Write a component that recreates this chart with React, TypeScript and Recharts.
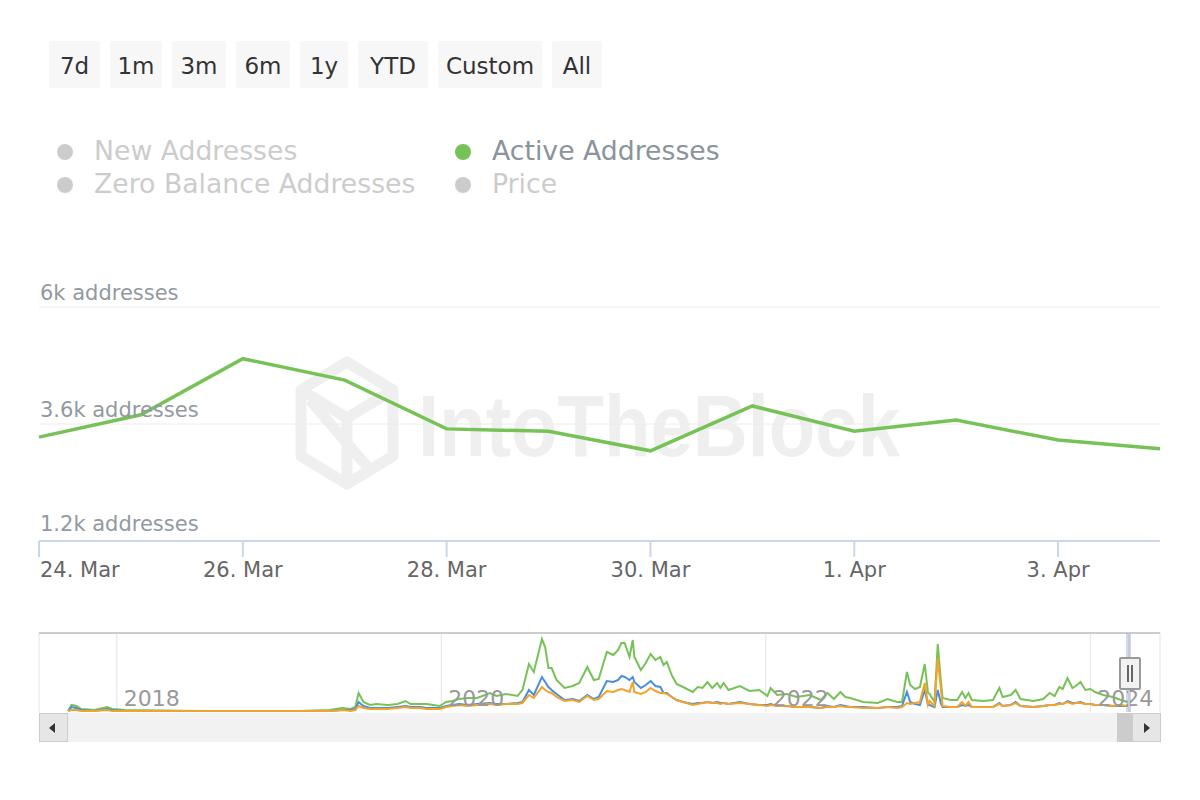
import React from 'react';
import { LineChart, Line, XAxis, YAxis, CartesianGrid } from 'recharts';

// ---- Main chart data (Active Addresses, last 12 days) ----
const mainDates = ['24. Mar', '25. Mar', '26. Mar', '27. Mar', '28. Mar', '29. Mar', '30. Mar', '31. Mar', '1. Apr', '2. Apr', '3. Apr', '4. Apr'];
const activeAddresses = [3330, 3790, 4940, 4500, 3500, 3450, 3050, 3970, 3450, 3680, 3270, 3090];
const yTickValues = [1200, 3600, 6000];
const yTickLabels = ['1.2k addresses', '3.6k addresses', '6k addresses'];

// ---- Navigator data (thousands of addresses, decimal years) ----
const navYears = [
  2017.70, 2017.72, 2017.75, 2017.78, 2017.86, 2017.94, 2017.97, 2018.05, 2018.51, 2019.13,
  2019.31, 2019.39, 2019.44, 2019.47, 2019.49, 2019.52, 2019.56, 2019.60, 2019.67, 2019.73,
  2019.78, 2019.81, 2019.87, 2019.91, 2019.99, 2020.03, 2020.07, 2020.11, 2020.16, 2020.22,
  2020.30, 2020.34, 2020.40, 2020.47, 2020.50, 2020.54, 2020.57, 2020.62, 2020.64, 2020.66,
  2020.68, 2020.71, 2020.76, 2020.81, 2020.85, 2020.90, 2020.94, 2020.97, 2021.02, 2021.06,
  2021.09, 2021.11, 2021.13, 2021.16, 2021.18, 2021.19, 2021.23, 2021.26, 2021.29, 2021.32,
  2021.35, 2021.37, 2021.39, 2021.42, 2021.45, 2021.49, 2021.55, 2021.58, 2021.61, 2021.64,
  2021.67, 2021.70, 2021.72, 2021.74, 2021.77, 2021.84, 2021.90, 2021.96, 2022.01, 2022.03,
  2022.07, 2022.13, 2022.19, 2022.27, 2022.34, 2022.38, 2022.42, 2022.46, 2022.49, 2022.52,
  2022.60, 2022.69, 2022.75, 2022.81, 2022.84, 2022.87, 2022.89, 2022.92, 2022.95, 2022.98,
  2023.00, 2023.01, 2023.04, 2023.06, 2023.08, 2023.09, 2023.14, 2023.18, 2023.21, 2023.23,
  2023.25, 2023.27, 2023.34, 2023.40, 2023.44, 2023.46, 2023.51, 2023.54, 2023.57, 2023.65,
  2023.71, 2023.75, 2023.78, 2023.81, 2023.83, 2023.86, 2023.89, 2023.91, 2023.94, 2023.97,
  2024.00, 2024.03, 2024.08, 2024.14, 2024.19, 2024.23,
];
const navActive = [
  0.3, 2.1, 1.8, 0.9, 0.6, 1.5, 0.9, 0.6, 0.3, 0.3,
  0.6, 1.2, 0.9, 1.5, 5.7, 3.0, 2.1, 2.4, 2.1, 2.4,
  3.3, 2.4, 2.4, 2.4, 1.8, 3.0, 3.3, 3.9, 4.2, 4.2,
  5.7, 4.8, 5.4, 4.8, 6.6, 14.4, 12.0, 21.9, 19.5, 13.2,
  13.2, 9.6, 7.2, 7.8, 8.7, 13.5, 9.6, 9.9, 18.0, 17.1,
  18.6, 20.7, 20.7, 16.5, 21.6, 16.5, 12.6, 14.7, 17.4, 15.6,
  16.5, 14.1, 15.0, 11.1, 8.4, 7.5, 6.0, 7.5, 7.2, 9.0,
  7.2, 8.7, 7.2, 8.7, 6.6, 7.8, 6.3, 6.6, 4.8, 7.2,
  5.1, 5.4, 4.5, 5.1, 3.6, 5.7, 3.9, 6.0, 4.5, 4.2,
  3.0, 2.7, 3.9, 3.0, 3.0, 12.0, 8.1, 6.9, 7.5, 14.4,
  5.7, 5.4, 3.0, 20.4, 9.0, 4.2, 3.6, 3.6, 6.0, 4.2,
  5.7, 3.6, 3.3, 3.6, 7.2, 4.5, 5.1, 6.6, 3.9, 3.3,
  3.9, 5.7, 4.8, 7.5, 6.9, 10.2, 7.2, 7.8, 9.0, 6.6,
  6.9, 6.0, 5.1, 4.5, 3.6, 3.0,
];
const navNew = [
  0.3, 1.5, 1.2, 0.6, 0.3, 0.9, 0.6, 0.3, 0.3, 0.3,
  0.3, 0.6, 0.6, 0.9, 3.0, 1.8, 1.2, 1.2, 1.2, 1.5,
  1.8, 1.5, 1.5, 1.2, 1.2, 1.8, 2.1, 2.4, 2.1, 2.4,
  2.7, 2.4, 2.4, 2.7, 3.0, 6.6, 5.1, 10.5, 9.0, 7.5,
  6.6, 5.4, 3.6, 3.9, 3.3, 5.1, 3.9, 4.5, 9.3, 9.0,
  9.6, 10.8, 10.5, 9.6, 10.5, 9.0, 7.2, 8.1, 9.3, 7.8,
  7.5, 5.7, 5.7, 4.5, 3.6, 3.0, 2.4, 2.7, 2.7, 3.0,
  2.7, 3.0, 2.7, 2.7, 2.4, 3.0, 2.4, 2.1, 2.1, 2.4,
  1.8, 1.8, 1.5, 1.5, 1.2, 1.8, 1.5, 2.1, 1.8, 1.5,
  1.5, 1.2, 1.5, 1.5, 1.8, 6.0, 3.0, 2.4, 2.1, 6.6,
  2.1, 2.1, 1.5, 6.6, 2.4, 1.5, 1.5, 1.5, 2.1, 1.8,
  2.1, 1.5, 1.5, 1.5, 2.7, 1.8, 2.1, 3.0, 1.8, 1.5,
  1.8, 2.1, 2.1, 2.7, 2.4, 3.3, 2.7, 2.7, 3.0, 2.4,
  2.4, 2.1, 2.1, 1.8, 1.8, 1.8,
];
const navZero = [
  0.3, 0.6, 0.6, 0.3, 0.3, 0.6, 0.3, 0.3, 0.3, 0.3,
  0.3, 0.6, 0.3, 0.6, 1.8, 1.2, 0.9, 0.9, 0.9, 1.2,
  1.5, 1.2, 1.2, 0.9, 0.9, 1.5, 1.8, 2.1, 1.8, 2.1,
  2.4, 2.1, 2.4, 2.4, 2.7, 5.1, 4.2, 7.5, 6.6, 6.0,
  5.7, 4.5, 3.3, 3.6, 3.0, 4.8, 3.6, 3.9, 6.3, 6.0,
  6.6, 6.9, 6.6, 6.0, 9.0, 6.0, 5.4, 6.0, 7.2, 6.3,
  5.7, 5.7, 5.4, 4.5, 3.6, 3.0, 2.1, 2.4, 2.7, 3.0,
  2.7, 2.7, 2.4, 2.7, 2.4, 2.7, 2.4, 2.1, 1.8, 2.1,
  1.8, 1.8, 1.5, 1.5, 1.2, 1.5, 1.5, 1.8, 1.5, 1.5,
  1.2, 1.2, 1.5, 1.2, 1.5, 2.7, 2.4, 2.7, 3.0, 8.7,
  2.1, 3.3, 1.8, 16.2, 6.6, 1.8, 1.5, 1.5, 3.0, 1.8,
  3.0, 1.5, 1.5, 1.5, 2.4, 1.8, 2.1, 2.7, 1.8, 1.5,
  1.8, 2.1, 2.1, 2.4, 2.4, 3.0, 2.4, 2.7, 2.7, 2.4,
  2.4, 2.1, 2.1, 1.8, 2.1, 1.8,
];
const navYearTicks = [2018, 2020, 2022, 2024];

const rangeButtons = ['7d', '1m', '3m', '6m', '1y', 'YTD', 'Custom', 'All'];
const legendItems = [
  { name: 'New Addresses', visible: false },
  { name: 'Zero Balance Addresses', visible: false },
  { name: 'Active Addresses', visible: true },
  { name: 'Price', visible: false },
];

const GREEN = '#77c257';
const BLUE = '#4a8fdc';
const ORANGE = '#f3a32c';
const FONT = '"DejaVu Sans", sans-serif';

const mainData = mainDates.map((d, i) => ({ date: d, active: activeAddresses[i] }));
const navData = navYears.map((y, i) => ({ t: y, active: navActive[i], newA: navNew[i], zero: navZero[i] }));

const buttonBoxes = [
  { left: 49, width: 51 },
  { left: 110, width: 52 },
  { left: 172, width: 54 },
  { left: 236, width: 54 },
  { left: 300, width: 48 },
  { left: 358, width: 70 },
  { left: 438, width: 104 },
  { left: 552, width: 50 },
];
const legendPos = [
  { x: 65, y: 152 },
  { x: 65, y: 185 },
  { x: 463, y: 152 },
  { x: 463, y: 185 },
];

const YTick = (props: any) => {
  const { y, payload } = props;
  const idx = yTickValues.indexOf(payload.value);
  return (
    <text x={40} y={y - (idx === 0 ? 10 : 7)} fill="#9299a0" fontSize={21} fontFamily={FONT} textAnchor="start">
      {yTickLabels[idx]}
    </text>
  );
};

const XTick = (props: any) => {
  const { x, y, payload, index } = props;
  return (
    <text x={index === 0 ? 40 : x} y={y + 18} fill="#666666" fontSize={21} fontFamily={FONT} textAnchor={index === 0 ? 'start' : 'middle'}>
      {payload.value}
    </text>
  );
};

const NavTick = (props: any) => {
  const { x, y, payload } = props;
  return (
    <text x={x + 7} y={y - 8} fill="#999999" fontSize={22} fontFamily={FONT} textAnchor="start">
      {payload.value}
    </text>
  );
};

export default function App() {
  return (
    <div style={{ position: 'absolute', left: 0, top: 0, width: 1200, height: 800, background: '#ffffff', fontFamily: FONT, overflow: 'hidden' }}>
      {rangeButtons.map((b, i) => (
        <div
          key={b}
          style={{
            position: 'absolute',
            left: buttonBoxes[i].left,
            top: 41,
            width: buttonBoxes[i].width,
            height: 47,
            background: '#f7f7f7',
            borderRadius: 2,
            color: '#333333',
            fontSize: 23,
            lineHeight: '50px',
            textAlign: 'center',
          }}
        >
          {b}
        </div>
      ))}

      {legendItems.map((it, i) => (
        <React.Fragment key={it.name}>
          <div
            style={{
              position: 'absolute',
              left: legendPos[i].x - 8,
              top: legendPos[i].y - 8,
              width: 16,
              height: 16,
              borderRadius: 8,
              background: it.visible ? GREEN : '#cccccc',
            }}
          />
          <div
            style={{
              position: 'absolute',
              left: legendPos[i].x + 29,
              top: legendPos[i].y - 18,
              height: 34,
              lineHeight: '34px',
              fontSize: 26.7,
              color: it.visible ? '#8a949b' : '#cccccc',
              whiteSpace: 'nowrap',
            }}
          >
            {it.name}
          </div>
        </React.Fragment>
      ))}

      {/* watermark */}
      <svg style={{ position: 'absolute', left: 0, top: 0 }} width={1200} height={800}>
        <g fill="none" stroke="#efefef" strokeWidth={11} strokeLinejoin="round">
          <polygon points="347,362 393,390 393,456 347,484 301,456 301,390" />
          <polyline points="301,390 347,418 393,390" />
          <line x1={347} y1={418} x2={347} y2={484} />
          <line x1={310} y1={400} x2={370} y2={470} />
        </g>
        <text x={418} y={456} fontFamily='"Liberation Sans", Arial, sans-serif' fontWeight="bold" fontSize={88} fill="#efefef" textLength={482} lengthAdjust="spacingAndGlyphs">
          IntoTheBlock
        </text>
      </svg>

      {/* main chart */}
      <div style={{ position: 'absolute', left: 0, top: 270 }}>
        <LineChart width={1200} height={320} data={mainData} margin={{ top: 37, right: 40, left: 0, bottom: 0 }}>
          <CartesianGrid vertical={false} stroke="#ececec" />
          <XAxis
            dataKey="date"
            interval={1}
            height={49}
            axisLine={{ stroke: '#ccd6eb', strokeWidth: 2 }}
            tickLine={{ stroke: '#ccd6eb', strokeWidth: 2 }}
            tickSize={16}
            tick={<XTick />}
          />
          <YAxis
            width={39}
            domain={[1200, 6000]}
            ticks={yTickValues}
            axisLine={false}
            tickLine={false}
            tick={<YTick />}
          />
          <Line type="linear" dataKey="active" stroke={GREEN} strokeWidth={3.5} dot={false} isAnimationActive={false} />
        </LineChart>
      </div>

      {/* navigator */}
      <div style={{ position: 'absolute', left: 0, top: 620 }}>
        <LineChart width={1200} height={100} data={navData} margin={{ top: 13, right: 40, left: 39, bottom: 7 }}>
          <CartesianGrid horizontal={false} stroke="#e3e3e3" />
          <XAxis
            type="number"
            dataKey="t"
            domain={[2017.52, 2024.43]}
            ticks={navYearTicks}
            height={1}
            axisLine={false}
            tickLine={false}
            tickSize={0}
            tick={<NavTick />}
          />
          <YAxis hide domain={[0, 23.7]} />
          <Line type="linear" dataKey="active" stroke={GREEN} strokeWidth={2} dot={false} isAnimationActive={false} />
          <Line type="linear" dataKey="newA" stroke={BLUE} strokeWidth={2} dot={false} isAnimationActive={false} />
          <Line type="linear" dataKey="zero" stroke={ORANGE} strokeWidth={2} dot={false} isAnimationActive={false} />
        </LineChart>
      </div>

      {/* navigator outline + mask */}
      <div style={{ position: 'absolute', left: 39, top: 632, width: 1121, height: 2, background: '#cccccc' }} />
      <div style={{ position: 'absolute', left: 1126, top: 633, width: 5, height: 79, background: 'rgba(102,133,194,0.3)' }} />
      <div style={{ position: 'absolute', left: 1128, top: 633, width: 2, height: 79, background: '#c8cbd6' }} />
      {/* handle */}
      <div style={{ position: 'absolute', left: 1119, top: 657, width: 18, height: 29, background: '#f2f2f2', border: '2px solid #999999', borderRadius: 2 }}>
        <div style={{ position: 'absolute', left: 6, top: 6, width: 2, height: 17, background: '#666' }} />
        <div style={{ position: 'absolute', left: 10, top: 6, width: 2, height: 17, background: '#666' }} />
      </div>

      {/* scrollbar */}
      <div style={{ position: 'absolute', left: 39, top: 713, width: 1121, height: 29, background: '#f2f2f2' }} />
      <div style={{ position: 'absolute', left: 39, top: 713, width: 27, height: 27, background: '#e6e6e6', border: '1px solid #cccccc' }}>
        <div style={{ position: 'absolute', left: 9, top: 9, width: 0, height: 0, borderTop: '5px solid transparent', borderBottom: '5px solid transparent', borderRight: '6px solid #333' }} />
      </div>
      <div style={{ position: 'absolute', left: 1117, top: 713, width: 16, height: 29, background: '#cccccc' }} />
      <div style={{ position: 'absolute', left: 1132, top: 713, width: 27, height: 27, background: '#e6e6e6', border: '1px solid #cccccc' }}>
        <div style={{ position: 'absolute', left: 11, top: 9, width: 0, height: 0, borderTop: '5px solid transparent', borderBottom: '5px solid transparent', borderLeft: '6px solid #333' }} />
      </div>
    </div>
  );
}
